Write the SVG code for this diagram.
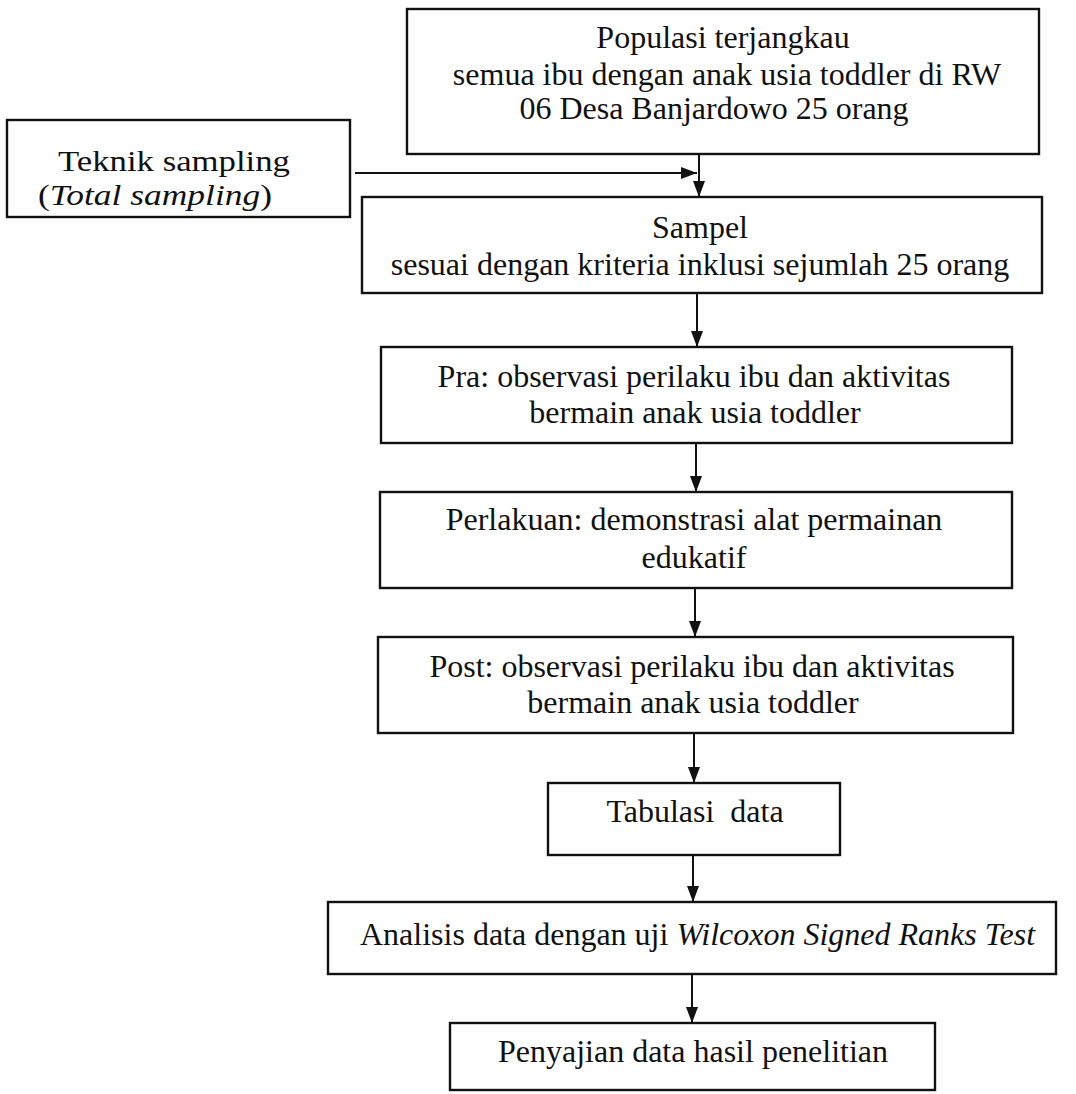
<svg xmlns="http://www.w3.org/2000/svg" width="1076" height="1094" viewBox="0 0 1076 1094">
<style>
  .box { fill: #ffffff; stroke: #111111; stroke-width: 2.4; }
  .t { font-family: "Liberation Serif", "Times New Roman", serif; font-size: 32px; fill: #111111; }
  .s { font-size: 30px; }
  .c { text-anchor: middle; }
  .i { font-style: italic; }
  .conn { stroke: #111111; stroke-width: 2; fill: none; }
</style>
<defs>
  <marker id="arr" markerUnits="userSpaceOnUse" markerWidth="16" markerHeight="12" refX="16" refY="6" orient="auto">
    <path d="M0,0 L16,6 L0,12 z" fill="#111111"/>
  </marker>
</defs>
<rect width="1076" height="1094" fill="#ffffff"/>

<g id="connectors">
  <line class="conn" x1="355" y1="173" x2="697" y2="173" marker-end="url(#arr)"/>
  <line class="conn" x1="699" y1="154" x2="699" y2="197" marker-end="url(#arr)"/>
  <line class="conn" x1="697" y1="293" x2="697" y2="347" marker-end="url(#arr)"/>
  <line class="conn" x1="696" y1="443" x2="696" y2="492" marker-end="url(#arr)"/>
  <line class="conn" x1="695" y1="588" x2="695" y2="637" marker-end="url(#arr)"/>
  <line class="conn" x1="694" y1="733" x2="694" y2="783" marker-end="url(#arr)"/>
  <line class="conn" x1="693" y1="855" x2="693" y2="902" marker-end="url(#arr)"/>
  <line class="conn" x1="692" y1="974" x2="692" y2="1023" marker-end="url(#arr)"/>
</g>

<g id="populasi">
  <rect class="box" x="407" y="9" width="632" height="145"/>
  <text class="t c" x="723" y="48">Populasi terjangkau</text>
  <text class="t c" x="727" y="85">semua ibu dengan anak usia toddler di RW</text>
  <text class="t c" x="714" y="119">06 Desa Banjardowo 25 orang</text>
</g>

<g id="teknik">
  <rect class="box" x="7" y="120" width="343" height="97"/>
  <text class="t s" x="58" y="171" textLength="232" lengthAdjust="spacingAndGlyphs">Teknik sampling</text>
  <text class="t s" x="38" y="205" textLength="234" lengthAdjust="spacingAndGlyphs">(<tspan class="i">Total sampling</tspan>)</text>
</g>

<g id="sampel">
  <rect class="box" x="362" y="197" width="680" height="96"/>
  <text class="t c" x="700" y="238">Sampel</text>
  <text class="t c" x="700" y="275">sesuai dengan kriteria inklusi sejumlah 25 orang</text>
</g>

<g id="pra">
  <rect class="box" x="381" y="347" width="631" height="96"/>
  <text class="t c" x="694" y="387">Pra: observasi perilaku ibu dan aktivitas</text>
  <text class="t c" x="695" y="423">bermain anak usia toddler</text>
</g>

<g id="perlakuan">
  <rect class="box" x="380" y="492" width="632" height="96"/>
  <text class="t c" x="694" y="530">Perlakuan: demonstrasi alat permainan</text>
  <text class="t c" x="694" y="568">edukatif</text>
</g>

<g id="post">
  <rect class="box" x="378" y="637" width="635" height="96"/>
  <text class="t c" x="692" y="677">Post: observasi perilaku ibu dan aktivitas</text>
  <text class="t c" x="693" y="713">bermain anak usia toddler</text>
</g>

<g id="tabulasi">
  <rect class="box" x="548" y="783" width="292" height="72"/>
  <text class="t c" x="695" y="822" xml:space="preserve">Tabulasi  data</text>
</g>

<g id="analisis">
  <rect class="box" x="328" y="902" width="728" height="72"/>
  <text class="t" x="360" y="945">Analisis data dengan uji <tspan class="i">Wilcoxon Signed Ranks Test</tspan></text>
</g>

<g id="penyajian">
  <rect class="box" x="450" y="1023" width="485" height="67"/>
  <text class="t c" x="693" y="1062">Penyajian data hasil penelitian</text>
</g>
</svg>
